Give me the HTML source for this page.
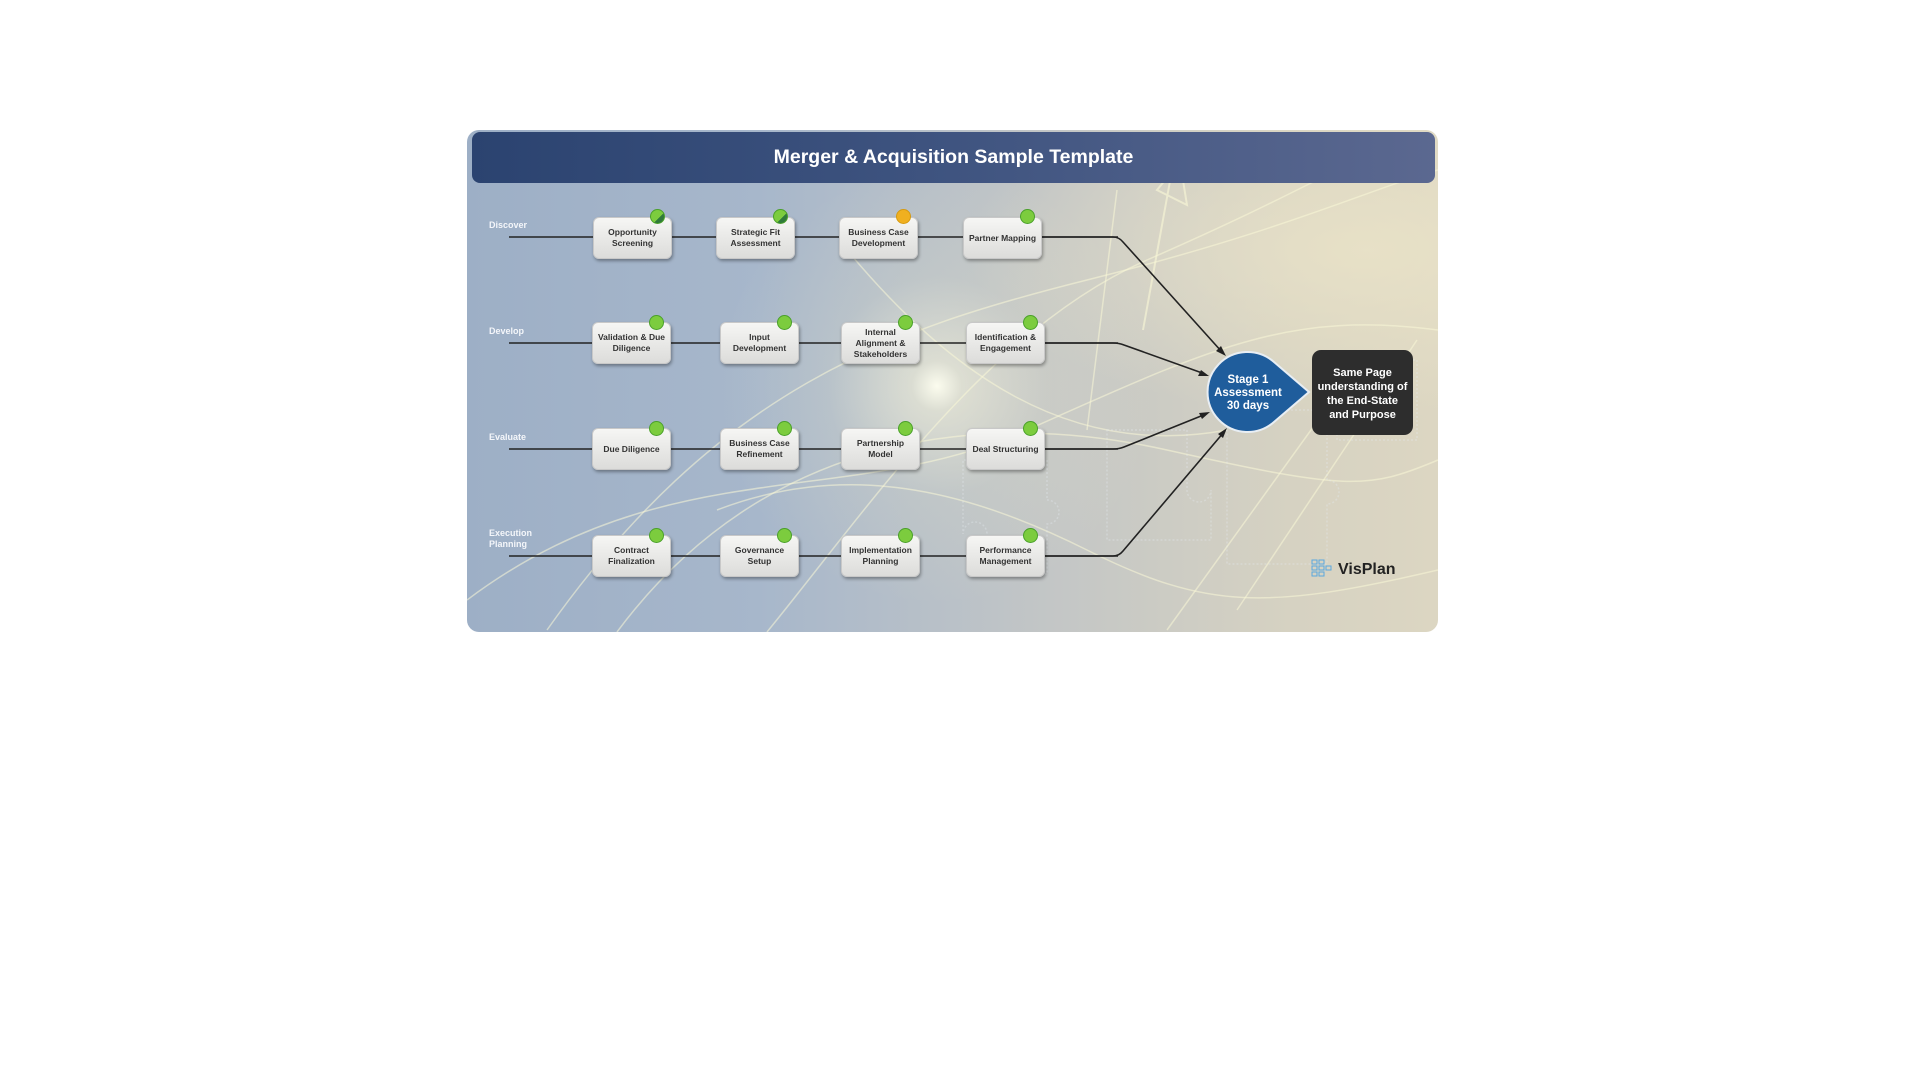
<!DOCTYPE html>
<html><head><meta charset="utf-8"><style>
html,body{margin:0;padding:0;background:#fff;width:1920px;height:1080px;overflow:hidden;font-family:"Liberation Sans",Arial,sans-serif}
#panel{position:absolute;left:467px;top:130px;width:971px;height:502px;border-radius:12px;overflow:hidden;
background:
radial-gradient(circle at 470px 256px,rgba(255,255,240,0.95) 0,rgba(255,250,220,0.5) 25px,rgba(240,235,200,0.15) 110px,rgba(0,0,0,0) 220px),
radial-gradient(ellipse at 900px 120px,rgba(235,228,200,0.8) 0,rgba(235,228,200,0) 400px),
linear-gradient(90deg,#9dafc6 0%,#a7b7cb 30%,#c3c6c6 60%,#d6d2c2 85%,#dcd6c2 100%);}
#hdr{position:absolute;left:5px;top:2px;width:963px;height:51px;border-radius:8px;background:linear-gradient(90deg,#2b4370,#3f5480 50%,#5b6890);color:#fff;font-weight:bold;font-size:19.5px;text-align:center;line-height:51px}
.lbl{position:absolute;color:#f4f6fa;font-size:9px;font-weight:bold;line-height:11px}
.box{position:absolute;width:79px;height:42px;border-radius:6px;background:linear-gradient(#f6f6f4,#dcdcda);box-shadow:1px 2px 3px rgba(0,0,0,0.35);border:1px solid #c8c8c8;box-sizing:border-box;display:flex;align-items:center;justify-content:center;text-align:center;font-size:8.5px;font-weight:bold;color:#333;line-height:11px}
.dot{position:absolute;width:13px;height:13px;border-radius:50%;background:#7ccc3e;border:1px solid #4aa02a}
</style></head><body>
<div id="panel">
<svg width="971" height="502" style="position:absolute;left:0;top:0">
<g fill="none" stroke="rgba(250,248,215,0.55)" stroke-width="1.5">
<path d="M80 500 C250 260 420 200 620 150 S900 60 971 40"/>
<path d="M0 470 C200 320 380 380 560 300 S820 180 971 200"/>
<path d="M150 502 C300 300 520 280 700 320 S900 360 971 330"/>
<path d="M300 502 C400 380 520 200 680 130 S860 40 920 20"/>
<path d="M380 120 C480 240 600 330 760 300"/>
<path d="M700 500 L880 250"/>
<path d="M770 480 L950 210"/>
<path d="M650 60 L620 300"/>
<path d="M250 380 C380 330 500 360 620 420 S800 480 971 440"/>
</g>
<path d="M676 200 L705 40 M690 60 L713 32 L720 75 Z" fill="none" stroke="rgba(250,248,215,0.6)" stroke-width="2"/>
<g fill="none" stroke="rgba(230,235,240,0.35)" stroke-width="1.5" stroke-dasharray="2 2">
<path d="M520 330 h60 v40 a12 12 0 1 1 0 24 v50 h-60 v-40 a12 12 0 1 0 -24 0 v-74z"/>
<path d="M640 300 h80 v60 a12 12 0 1 0 24 0 v50 h-104z"/>
<path d="M760 280 h100 v70 a12 12 0 1 1 0 24 v60 h-100z"/>
<path d="M870 230 h80 v80 h-80z"/>
</g>
<g stroke="#222" stroke-width="1.6" fill="none">
<line x1="42" y1="107" x2="651" y2="107"/>
<line x1="42" y1="213" x2="651" y2="213"/>
<line x1="42" y1="319" x2="651" y2="319"/>
<line x1="42" y1="426" x2="651" y2="426"/>
<path d="M575 107 H646 Q652 107 656 112 L755 222"/>
<path d="M575 213 H646 Q652 213 657 215 L738 244"/>
<path d="M575 319 H646 Q652 319 657 317 L739 284"/>
<path d="M575 426 H646 Q652 426 656 421 L757 302"/>
</g>
<g fill="#222">
<polygon points="759,226 749,221 754,216"/>
<polygon points="742,246 731,246 734,240"/>
<polygon points="743,282 735,289 732,283"/>
<polygon points="760,298 756,308 751,304"/>
</g>
<path d="M807 232 A40 40 0 1 0 807 292 L842 262 Z" fill="#1f5d9c" stroke="#e8eef4" stroke-width="2"/>
<text x="781" y="253" fill="#fff" font-size="11.5" font-weight="bold" text-anchor="middle" font-family="Liberation Sans, sans-serif">Stage 1</text>
<text x="781" y="266" fill="#fff" font-size="11.5" font-weight="bold" text-anchor="middle" font-family="Liberation Sans, sans-serif">Assessment</text>
<text x="781" y="279" fill="#fff" font-size="11.5" font-weight="bold" text-anchor="middle" font-family="Liberation Sans, sans-serif">30 days</text>
<rect x="845" y="220" width="101" height="85" rx="9" fill="#2d2d2d"/>
<g fill="#fff" font-size="11" font-weight="bold" text-anchor="middle" font-family="Liberation Sans, sans-serif">
<text x="895.5" y="246">Same Page</text>
<text x="895.5" y="260">understanding of</text>
<text x="895.5" y="274">the End-State</text>
<text x="895.5" y="288">and Purpose</text>
</g>
<g fill="none" stroke="#5aa7de" stroke-width="1">
<rect x="845" y="430" width="5" height="4"/><rect x="852" y="430" width="5" height="4"/>
<rect x="845" y="436" width="5" height="4"/><rect x="852" y="436" width="5" height="4"/><rect x="859" y="436" width="5" height="4"/>
<rect x="845" y="442" width="5" height="4"/><rect x="852" y="442" width="5" height="4"/>
</g>
<text x="871" y="444" fill="#222" font-size="16" font-weight="bold" font-family="Liberation Sans, sans-serif">VisPlan</text>
</svg>
<div id="hdr">Merger &amp; Acquisition Sample Template</div>
<div class="lbl" style="left:22px;top:90px">Discover</div>
<div class="lbl" style="left:22px;top:196px">Develop</div>
<div class="lbl" style="left:22px;top:302px">Evaluate</div>
<div class="lbl" style="left:22px;top:398px">Execution<br>Planning</div>

<div class="box" style="left:126px;top:87px">Opportunity<br>Screening</div>
<div class="box" style="left:249px;top:87px">Strategic Fit<br>Assessment</div>
<div class="box" style="left:372px;top:87px">Business Case<br>Development</div>
<div class="box" style="left:496px;top:87px">Partner Mapping</div>
<div class="dot" style="left:183px;top:79px;background:linear-gradient(135deg,#7ccc3e 60%,#2f7a3a 60%)"></div>
<div class="dot" style="left:306px;top:79px;background:linear-gradient(135deg,#7ccc3e 60%,#2f7a3a 60%)"></div>
<div class="dot" style="left:429px;top:79px;background:#f0b020;border-color:#d69a10"></div>
<div class="dot" style="left:553px;top:79px"></div>

<div class="box" style="left:125px;top:192px">Validation &amp; Due<br>Diligence</div>
<div class="box" style="left:253px;top:192px">Input<br>Development</div>
<div class="box" style="left:374px;top:192px">Internal<br>Alignment &amp;<br>Stakeholders</div>
<div class="box" style="left:499px;top:192px">Identification &amp;<br>Engagement</div>
<div class="dot" style="left:182px;top:185px"></div>
<div class="dot" style="left:310px;top:185px"></div>
<div class="dot" style="left:431px;top:185px"></div>
<div class="dot" style="left:556px;top:185px"></div>

<div class="box" style="left:125px;top:298px">Due Diligence</div>
<div class="box" style="left:253px;top:298px">Business Case<br>Refinement</div>
<div class="box" style="left:374px;top:298px">Partnership<br>Model</div>
<div class="box" style="left:499px;top:298px">Deal Structuring</div>
<div class="dot" style="left:182px;top:291px"></div>
<div class="dot" style="left:310px;top:291px"></div>
<div class="dot" style="left:431px;top:291px"></div>
<div class="dot" style="left:556px;top:291px"></div>

<div class="box" style="left:125px;top:405px">Contract<br>Finalization</div>
<div class="box" style="left:253px;top:405px">Governance<br>Setup</div>
<div class="box" style="left:374px;top:405px">Implementation<br>Planning</div>
<div class="box" style="left:499px;top:405px">Performance<br>Management</div>
<div class="dot" style="left:182px;top:398px"></div>
<div class="dot" style="left:310px;top:398px"></div>
<div class="dot" style="left:431px;top:398px"></div>
<div class="dot" style="left:556px;top:398px"></div>
</div>
</body></html>
